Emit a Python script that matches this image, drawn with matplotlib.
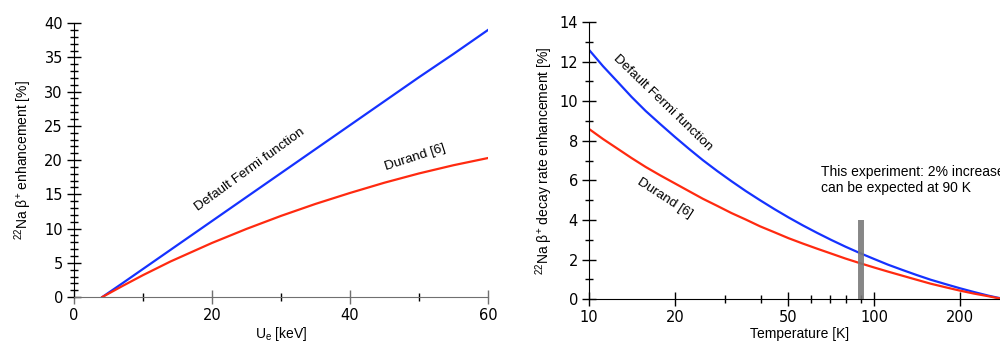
import numpy as np
import matplotlib
matplotlib.use("Agg")
import matplotlib.pyplot as plt
from matplotlib.ticker import MultipleLocator, FixedLocator, NullFormatter, FixedFormatter

# --- DATA ---
# left panel: enhancement vs screening potential U_e [keV]
ue_kev = [4.1, 7, 10, 14, 20, 25, 30, 35, 40, 45, 50, 55, 60]
fermi_ue = [0.0, 2.0, 4.1, 6.9, 11.1, 14.6, 18.1, 21.6, 25.1, 28.6, 32.1, 35.5, 39.0]
durand_ue = [0.0, 1.6, 3.2, 5.2, 7.9, 9.95, 11.85, 13.6, 15.2, 16.7, 18.05, 19.25, 20.3]

# right panel: decay rate enhancement vs temperature [K]
temp_k = [10, 11.2, 12.6, 14.1, 15.8, 17.8, 20, 22.4, 25.1, 28.2, 31.6, 35.5, 39.8,
          44.7, 50.1, 56.2, 63.1, 70.8, 79.4, 89.1, 100, 112, 126, 141, 158, 178,
          200, 224, 251, 270, 288]
fermi_t = [12.6, 11.77, 10.98, 10.22, 9.51, 8.84, 8.2, 7.6, 7.02, 6.47, 5.96, 5.46, 5.0,
           4.55, 4.13, 3.73, 3.35, 2.99, 2.65, 2.33, 2.03, 1.74, 1.47, 1.22, 0.98, 0.76,
           0.55, 0.36, 0.18, 0.08, 0.0]
durand_t = [8.6, 8.09, 7.6, 7.13, 6.68, 6.25, 5.85, 5.46, 5.07, 4.71, 4.35, 4.02, 3.68,
            3.38, 3.08, 2.81, 2.55, 2.3, 2.05, 1.82, 1.6, 1.39, 1.18, 0.98, 0.78, 0.6,
            0.43, 0.28, 0.15, 0.06, 0.0]

bar_T = 90
bar_top = 4.0

left_xticks = [0, 20, 40, 60]
right_xticks = [10, 20, 50, 100, 200]
right_xminor = [30, 40, 60, 70, 80, 90, 300]

BLUE = "#1532ff"
RED = "#ff2a10"

plt.rcParams["font.family"] = "Liberation Sans"
plt.rcParams["mathtext.fontset"] = "custom"
plt.rcParams["mathtext.rm"] = "Liberation Sans"
plt.rcParams["mathtext.it"] = "Liberation Sans:italic"

fig = plt.figure(figsize=(10, 3.45), dpi=100)

TICK_FONT = dict(family="DejaVu Sans", size=10.5)


def style_axes(ax, xcolor="black"):
    for s in ["top", "right"]:
        ax.spines[s].set_visible(False)
    ax.spines["left"].set_color("black")
    ax.spines["bottom"].set_color(xcolor)
    ax.tick_params(axis="both", which="major", direction="inout", length=10, width=1, pad=3)
    ax.tick_params(axis="both", which="minor", direction="inout", length=6, width=1)
    ax.tick_params(axis="x", colors=xcolor, labelcolor="black")
    for lab in ax.get_xticklabels() + ax.get_yticklabels():
        lab.set_fontfamily(TICK_FONT["family"])
        lab.set_fontsize(TICK_FONT["size"])


# --- left panel ---
ax1 = fig.add_axes([0.074, 0.139, 0.414, 0.794])
ax1.plot(ue_kev, fermi_ue, color=BLUE, lw=1.6)
ax1.plot(ue_kev, durand_ue, color=RED, lw=1.6)
ax1.set_xlim(0, 60)
ax1.set_ylim(0, 40)
ax1.xaxis.set_major_locator(FixedLocator(left_xticks))
ax1.xaxis.set_minor_locator(MultipleLocator(10))
ax1.yaxis.set_major_locator(MultipleLocator(5))
ax1.yaxis.set_minor_locator(MultipleLocator(1))
style_axes(ax1, xcolor="#707070")
ax1.set_xlabel(r"U$_{\rm e}$ [keV]", fontsize=10, labelpad=1)
ax1.set_ylabel(r"$^{22}$Na β$^{+}$ enhancement [%]", fontsize=10, labelpad=7)
ax1.text(25.5, 18.6, "Default Fermi function", rotation=36, fontsize=9.7,
         ha="center", va="center", rotation_mode="anchor")
ax1.text(49.4, 20.4, "Durand [6]", rotation=18, fontsize=9.7,
         ha="center", va="center", rotation_mode="anchor")

# --- right panel (log temperature axis, runs off the right edge) ---
ax2 = fig.add_axes([0.589, 0.133, 0.421, 0.803])
ax2.plot(temp_k, fermi_t, color=BLUE, lw=1.6)
ax2.plot(temp_k, durand_t, color=RED, lw=1.6)
ax2.vlines(bar_T, 0, bar_top, color="#7a7a7a", alpha=0.9, lw=4.3, zorder=5)
ax2.set_xscale("log")
ax2.set_xlim(10, 300)
ax2.set_ylim(0, 14)
ax2.xaxis.set_major_locator(FixedLocator(right_xticks))
ax2.xaxis.set_major_formatter(FixedFormatter([str(t) for t in right_xticks]))
ax2.xaxis.set_minor_locator(FixedLocator(right_xminor))
ax2.xaxis.set_minor_formatter(NullFormatter())
ax2.yaxis.set_major_locator(MultipleLocator(2))
ax2.yaxis.set_minor_locator(MultipleLocator(1))
style_axes(ax2)
ax2.set_xlabel("Temperature [K]", fontsize=10, labelpad=1)
ax2.set_ylabel(r"$^{22}$Na β$^{+}$ decay rate enhancement [%]", fontsize=10, labelpad=3)
ax2.text(18.2, 9.9, "Default Fermi function", rotation=-44, fontsize=9.7,
         ha="center", va="center", rotation_mode="anchor")
ax2.text(18.5, 5.1, "Durand [6]", rotation=-33, fontsize=9.7,
         ha="center", va="center", rotation_mode="anchor")
ax2.text(65, 6.0, "This experiment: 2% increase\ncan be expected at 90 K",
         fontsize=10, ha="left", va="center", linespacing=1.2)

fig.savefig("out.png", dpi=100)
